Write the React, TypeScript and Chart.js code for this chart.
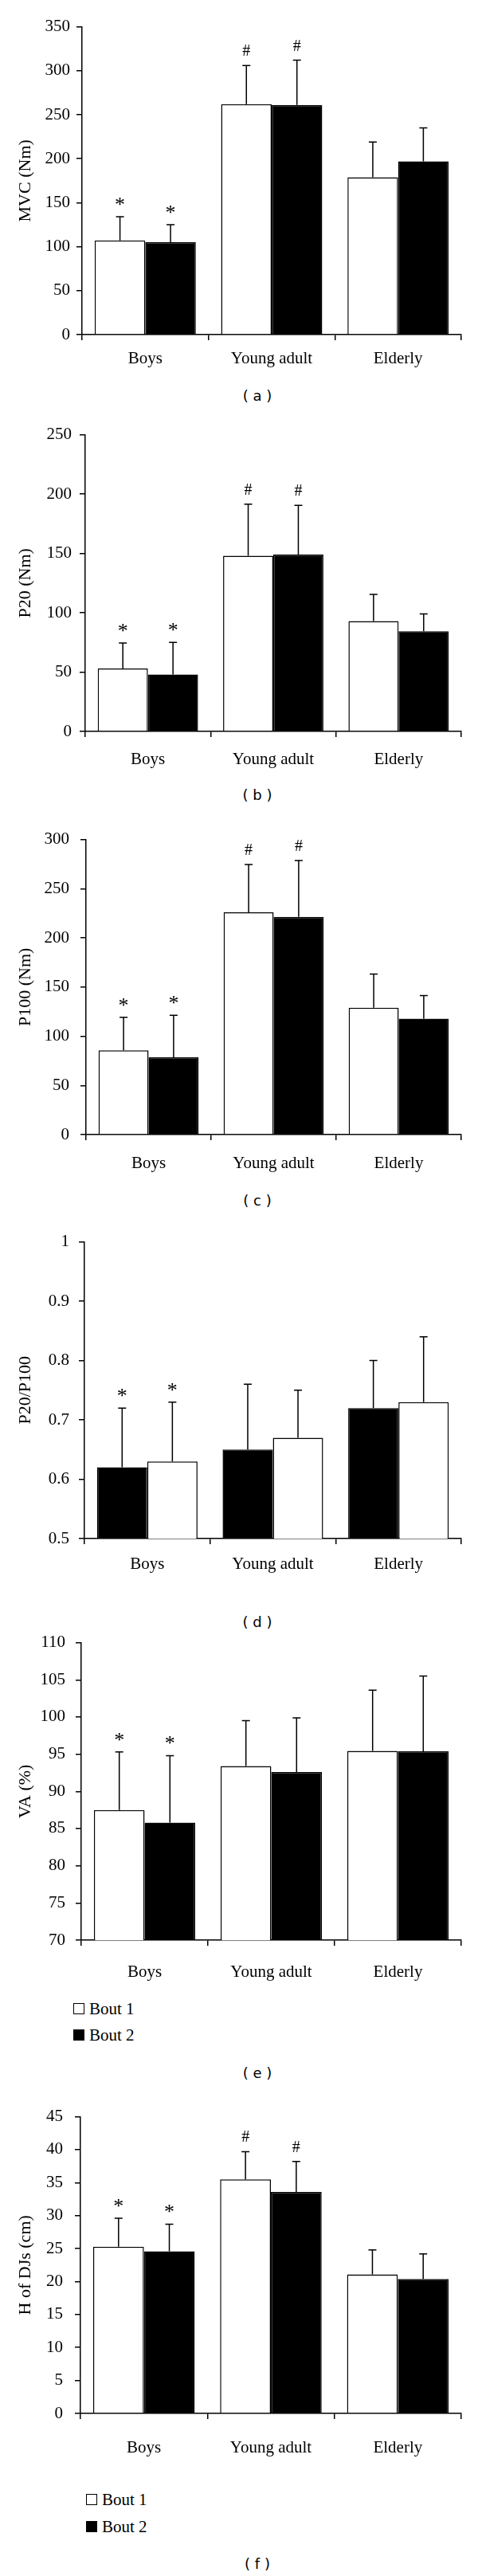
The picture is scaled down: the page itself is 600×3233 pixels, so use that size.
import React, { useEffect, useRef } from 'react';
import { Chart, registerables } from 'chart.js';

Chart.register(...registerables);

const SERIF = '"Liberation Serif", "Times New Roman", serif';
const SANS = '"DejaVu Sans", Verdana, sans-serif';

const categories = ['Boys', 'Young adult', 'Elderly'];
const seriesLabels = ['Bout 1', 'Bout 2'];

// (a) MVC (Nm)
const mvcBout1 = [107, 262, 179];
const mvcBout2 = [105, 261, 197];
const mvcErr1 = [27, 44, 40];
const mvcErr2 = [20, 51, 38];
const mvcMarks1 = ['*', '#', ''];
const mvcMarks2 = ['*', '#', ''];
const mvcAxis = [0, 350, 50];

// (b) P20 (Nm)
const p20Bout1 = [53, 148, 93];
const p20Bout2 = [48, 149, 84.5];
const p20Err1 = [21.5, 43.5, 22.5];
const p20Err2 = [27, 41.5, 14.5];
const p20Marks1 = ['*', '#', ''];
const p20Marks2 = ['*', '#', ''];
const p20Axis = [0, 250, 50];

// (c) P100 (Nm)
const p100Bout1 = [85.7, 226, 129];
const p100Bout2 = [78.6, 221.4, 117.8];
const p100Err1 = [33.5, 48.5, 34.2];
const p100Err2 = [42.6, 57.3, 23.6];
const p100Marks1 = ['*', '#', ''];
const p100Marks2 = ['*', '#', ''];
const p100Axis = [0, 300, 50];

// (d) P20/P100
const ratioBout1 = [0.62, 0.65, 0.72];
const ratioBout2 = [0.63, 0.67, 0.73];
const ratioErr1 = [0.1, 0.11, 0.08];
const ratioErr2 = [0.1, 0.08, 0.11];
const ratioMarks1 = ['*', '', ''];
const ratioMarks2 = ['*', '', ''];
const ratioAxis = [0.5, 1, 0.1];

// (e) VA (%)
const vaBout1 = [87.5, 93.4, 95.45];
const vaBout2 = [85.8, 92.6, 95.4];
const vaErr1 = [7.8, 6.1, 8.15];
const vaErr2 = [9.0, 7.3, 10.1];
const vaMarks1 = ['*', '', ''];
const vaMarks2 = ['*', '', ''];
const vaAxis = [70, 110, 5];

// (f) H of DJs (cm)
const hBout1 = [25.3, 35.5, 21.1];
const hBout2 = [24.6, 33.6, 20.4];
const hErr1 = [4.3, 4.2, 3.7];
const hErr2 = [4.1, 4.6, 3.8];
const hMarks1 = ['*', '#', ''];
const hMarks2 = ['*', '#', ''];
const hAxis = [0, 45, 5];

const panels = [
  { id: 'a', title: 'MVC (Nm)', v1: mvcBout1, v2: mvcBout2, e1: mvcErr1, e2: mvcErr2, m1: mvcMarks1, m2: mvcMarks2, axis: mvcAxis, swap: false, legend: false },
  { id: 'b', title: 'P20 (Nm)', v1: p20Bout1, v2: p20Bout2, e1: p20Err1, e2: p20Err2, m1: p20Marks1, m2: p20Marks2, axis: p20Axis, swap: false, legend: false },
  { id: 'c', title: 'P100 (Nm)', v1: p100Bout1, v2: p100Bout2, e1: p100Err1, e2: p100Err2, m1: p100Marks1, m2: p100Marks2, axis: p100Axis, swap: false, legend: false },
  { id: 'd', title: 'P20/P100', v1: ratioBout1, v2: ratioBout2, e1: ratioErr1, e2: ratioErr2, m1: ratioMarks1, m2: ratioMarks2, axis: ratioAxis, swap: true, legend: false },
  { id: 'e', title: 'VA (%)', v1: vaBout1, v2: vaBout2, e1: vaErr1, e2: vaErr2, m1: vaMarks1, m2: vaMarks2, axis: vaAxis, swap: false, legend: true },
  { id: 'f', title: 'H of DJs (cm)', v1: hBout1, v2: hBout2, e1: hErr1, e2: hErr2, m1: hMarks1, m2: hMarks2, axis: hAxis, swap: false, legend: true },
];

// page geometry (pixels)
const layouts = [
  { top: 33, bottom: 420, axisX: 103, tickGap: 15, catGap: 30, captionY: 497, legendX: 0, legendY1: 0, legendY2: 0 },
  { top: 543, bottom: 918, axisX: 107, tickGap: 17, catGap: 35, captionY: 998, legendX: 0, legendY1: 0, legendY2: 0 },
  { top: 1047, bottom: 1424, axisX: 108, tickGap: 21, catGap: 36, captionY: 1507, legendX: 0, legendY1: 0, legendY2: 0 },
  { top: 1554, bottom: 1931, axisX: 106, tickGap: 19, catGap: 32, captionY: 2036, legendX: 0, legendY1: 0, legendY2: 0 },
  { top: 2056, bottom: 2435, axisX: 102, tickGap: 20, catGap: 40, captionY: 2602, legendX: 92, legendY1: 2521, legendY2: 2554 },
  { top: 2649, bottom: 3029, axisX: 101, tickGap: 22, catGap: 43, captionY: 3218, legendX: 108, legendY1: 3137, legendY2: 3171 },
];

const PAD_TOP = 20;
const X_AXIS_H = 60;
const AXIS_END = 579;
const TICK_FONT = 21;

const errorBarPlugin = {
  id: 'errorBarsAndMarks',
  afterDatasetsDraw(chart: any) {
    const ctx = chart.ctx;
    const yScale = chart.scales.y;
    chart.data.datasets.forEach((ds: any, di: number) => {
      const meta = chart.getDatasetMeta(di);
      meta.data.forEach((bar: any, i: number) => {
        const v = ds.data[i];
        const e = ds.errors[i];
        const x = bar.x;
        const yTop = bar.y;
        const yErr = yScale.getPixelForValue(v + e);
        ctx.save();
        ctx.strokeStyle = '#000';
        ctx.lineWidth = 1.5;
        ctx.beginPath();
        ctx.moveTo(x, yTop);
        ctx.lineTo(x, yErr);
        ctx.moveTo(x - 5, yErr);
        ctx.lineTo(x + 5, yErr);
        ctx.stroke();
        const mark = ds.marks[i];
        if (mark) {
          ctx.fillStyle = '#000';
          ctx.textAlign = 'center';
          ctx.textBaseline = 'alphabetic';
          const cy = yErr - 19;
          if (mark === '*') {
            ctx.font = `26px ${SERIF}`;
            ctx.fillText('*', x, cy + 12);
          } else {
            ctx.font = `20px ${SERIF}`;
            ctx.fillText('#', x, cy + 7);
          }
        }
        ctx.restore();
      });
    });
  },
};

function Panel({ p, l }: any) {
  const ref = useRef<HTMLCanvasElement>(null);
  const plotH = l.bottom - l.top;
  const h = PAD_TOP + plotH + X_AXIS_H;
  useEffect(() => {
    const white = '#ffffff';
    const black = '#000000';
    const c1 = p.swap ? black : white;
    const c2 = p.swap ? white : black;
    const chart = new Chart(ref.current as HTMLCanvasElement, {
      type: 'bar',
      data: {
        labels: categories,
        datasets: [
          { label: seriesLabels[0], data: p.v1, errors: p.e1, marks: p.m1, backgroundColor: c1, borderColor: '#000', borderWidth: 1.5, barPercentage: 1, categoryPercentage: 0.8 } as any,
          { label: seriesLabels[1], data: p.v2, errors: p.e2, marks: p.m2, backgroundColor: c2, borderColor: '#000', borderWidth: 1.5, barPercentage: 1, categoryPercentage: 0.8 } as any,
        ],
      },
      options: {
        animation: false,
        responsive: false,
        maintainAspectRatio: false,
        devicePixelRatio: 1,
        layout: { padding: { top: PAD_TOP, left: 0, right: 600 - AXIS_END, bottom: 0 } },
        plugins: { legend: { display: false }, tooltip: { enabled: false }, title: { display: false } },
        scales: {
          x: {
            type: 'category',
            offset: true,
            grid: { display: true, offset: true, drawOnChartArea: false, drawTicks: true, tickLength: 7, color: '#000', lineWidth: 1.5 },
            border: { display: true, color: '#000', width: 1.5 },
            ticks: { color: '#000', font: { family: SERIF, size: TICK_FONT }, padding: l.catGap - 7 - TICK_FONT * 0.6, maxRotation: 0, autoSkip: false },
            afterFit: (s: any) => { s.height = X_AXIS_H; },
          },
          y: {
            type: 'linear',
            min: p.axis[0],
            max: p.axis[1],
            ticks: {
              stepSize: p.axis[2],
              color: '#000',
              font: { family: SERIF, size: TICK_FONT },
              padding: l.tickGap - 7,
              callback: (v: any) => String(Number(Number(v).toFixed(2))),
            },
            grid: { display: true, drawOnChartArea: false, drawTicks: true, tickLength: 7, color: '#000', lineWidth: 1.5 },
            border: { display: true, color: '#000', width: 1.5 },
            title: { display: true, text: p.title, color: '#000', font: { family: SERIF, size: 22 }, padding: { top: 19, bottom: 0 } },
            afterFit: (s: any) => { s.width = l.axisX; },
          },
        },
      },
      plugins: [errorBarPlugin],
    } as any);
    return () => chart.destroy();
  }, []);
  return (
    <canvas
      ref={ref}
      width={600}
      height={h}
      style={{ position: 'absolute', left: 0, top: l.top - PAD_TOP, width: 600, height: h }}
    />
  );
}

function Caption({ text, y }: any) {
  return (
    <div style={{ position: 'absolute', left: 273, width: 100, top: y - 12, height: 24, lineHeight: '24px', textAlign: 'center', fontFamily: SANS, fontSize: 18, color: '#000', whiteSpace: 'pre' }}>
      {text}
    </div>
  );
}

function LegendRow({ x, y, fill, text }: any) {
  return (
    <>
      <div style={{ position: 'absolute', left: x, top: y - 7, width: 14, height: 14, boxSizing: 'border-box', border: '1.5px solid #000', background: fill }} />
      <div style={{ position: 'absolute', left: x + 20, top: y - 13, height: 26, lineHeight: '26px', fontFamily: SERIF, fontSize: 21, color: '#000', whiteSpace: 'pre' }}>{text}</div>
    </>
  );
}

export default function App() {
  return (
    <div style={{ position: 'absolute', left: 0, top: 0, width: 600, height: 3233, background: '#fff', overflow: 'hidden' }}>
      {panels.map((p, i) => {
        const l = layouts[i];
        return (
          <React.Fragment key={p.id}>
            <Panel p={p} l={l} />
            {p.legend && <LegendRow x={l.legendX} y={l.legendY1} fill="#fff" text={seriesLabels[0]} />}
            {p.legend && <LegendRow x={l.legendX} y={l.legendY2} fill="#000" text={seriesLabels[1]} />}
            <Caption text={`( ${p.id} )`} y={l.captionY} />
          </React.Fragment>
        );
      })}
    </div>
  );
}
